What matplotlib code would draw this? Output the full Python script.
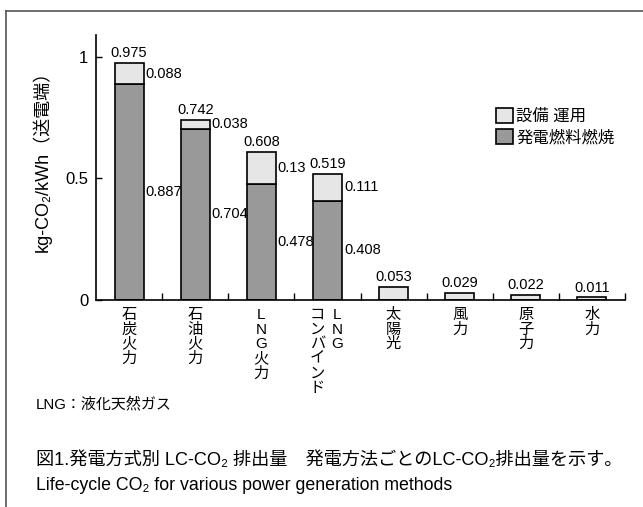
import matplotlib
matplotlib.use("Agg")
import matplotlib.pyplot as plt
import numpy as np
from matplotlib import font_manager
from matplotlib.lines import Line2D
from matplotlib.patches import Patch

# data
categories = ["石炭火力", "石油火力", "LNG火力", "LNGコンバインド", "太陽光", "風力", "原子力", "水力"]
# vertical label columns, right column first (Japanese vertical writing)
label_columns = [["石炭火力"], ["石油火力"], ["LNG火力"], ["LNG", "コンバインド"],
                 ["太陽光"], ["風力"], ["原子力"], ["水力"]]
fuel = [0.887, 0.704, 0.478, 0.408, 0, 0, 0, 0]          # 発電燃料燃焼
facility = [0.088, 0.038, 0.13, 0.111, 0.053, 0.029, 0.022, 0.011]  # 設備 運用
totals = [0.975, 0.742, 0.608, 0.519, 0.053, 0.029, 0.022, 0.011]
yticks = [0, 0.5, 1]
ytick_labels = ["0", "0.5", "1"]
legend_labels = ["設備 運用", "発電燃料燃焼"]

JP = ["Liberation Sans", "Noto Sans CJK JP", "DejaVu Sans"]


def pick_font(name, fallback):
    try:
        font_manager.findfont(name, fallback_to_default=False)
        return name
    except Exception:
        return fallback


NUM = pick_font("Liberation Sans Narrow", "Liberation Sans")
NUM_SIZE = 11.5 if NUM == "Liberation Sans Narrow" else 10.5

fig = plt.figure(figsize=(6.43, 5.07), dpi=100)
W, H = 643, 507
ax = fig.add_axes([96 / W, 1 - 300 / H, 529 / W, 265 / H])

x = np.arange(len(categories))
fuel = np.array(fuel)
facility = np.array(facility)
has_fuel = fuel > 0

ax.bar(x[has_fuel], fuel[has_fuel], width=0.44, color="#999999",
       edgecolor="black", linewidth=1.2)
ax.bar(x, facility, bottom=fuel, width=0.44, color="#e6e6e6",
       edgecolor="black", linewidth=1.2)

# totals on top, segment values on the right of stacked bars
for i, t in enumerate(totals):
    ax.annotate(f"{t:g}", (x[i], t), xytext=(0, 2), textcoords="offset points",
                ha="center", va="bottom", fontsize=NUM_SIZE, family=NUM)
    if has_fuel[i]:
        ax.annotate(f"{facility[i]:g}", (x[i] + 0.22, fuel[i] + facility[i] / 2),
                    xytext=(2, 0), textcoords="offset pixels",
                    ha="left", va="center", fontsize=NUM_SIZE, family=NUM)
        ax.annotate(f"{fuel[i]:g}", (x[i] + 0.22, fuel[i] / 2),
                    xytext=(2, 0), textcoords="offset pixels",
                    ha="left", va="center", fontsize=NUM_SIZE, family=NUM)

# vertical category labels, one character at a time
for i, cols in enumerate(label_columns):
    n = len(cols)
    for c, col in enumerate(cols):
        dx = (n - 1) * 10 - c * 20
        for k, ch in enumerate(col):
            ax.annotate(ch, (x[i], 0), xycoords=("data", "axes fraction"),
                        xytext=(dx, -15 - k * 14.6), textcoords="offset pixels",
                        ha="center", va="center", fontsize=11, family=JP)

ax.set_xlim(-0.5, 7.5)
ax.set_ylim(0, 1.09)
ax.set_xticks(x + 0.5)
ax.set_xticklabels([])
ax.tick_params(axis="x", direction="in", length=5, width=1)
ax.set_yticks(yticks)
ax.set_yticklabels(ytick_labels, fontsize=12, family="Liberation Sans")
ax.tick_params(axis="y", direction="in", length=4, width=1, pad=5.5)
for s in ["top", "right"]:
    ax.spines[s].set_visible(False)
for s in ["left", "bottom"]:
    ax.spines[s].set_linewidth(1.2)

handles = [Patch(facecolor="#e6e6e6", edgecolor="black", linewidth=1.2),
           Patch(facecolor="#999999", edgecolor="black", linewidth=1.2)]
ax.legend(handles, legend_labels, loc="upper left",
          bbox_to_anchor=(496 / W, 1 - 108 / H), bbox_transform=fig.transFigure,
          frameon=False, handlelength=1.05, handleheight=1.05, handletextpad=0.2,
          labelspacing=0.3, borderpad=0, borderaxespad=0,
          prop={"family": JP, "size": 11.8})

fig.text(42 / W, 1 - 157 / H, "kg-CO₂/kWh（送電端）", rotation=90,
         ha="center", va="center", fontsize=13, family=JP)

fig.text(36 / W, 1 - 404 / H, "LNG：液化天然ガス", ha="left", va="center",
         fontsize=10.8, family=JP)
fig.text(36 / W, 1 - 460 / H, "図1.発電方式別 LC-CO₂ 排出量　発電方法ごとのLC-CO₂排出量を示す。",
         ha="left", va="center", fontsize=13.1, family=JP)
fig.text(36 / W, 1 - 485 / H, "Life-cycle CO₂ for various power generation methods",
         ha="left", va="center", fontsize=12.8, family=JP)

# partial frame around the figure (left and top edges)
fig.add_artist(Line2D([6 / W, 6 / W], [0, 1 - 11 / H], transform=fig.transFigure,
                      color="#555555", linewidth=1.2))
fig.add_artist(Line2D([6 / W, 1], [1 - 11 / H, 1 - 11 / H], transform=fig.transFigure,
                      color="#555555", linewidth=1.2))

fig.savefig("out.png", dpi=100)
